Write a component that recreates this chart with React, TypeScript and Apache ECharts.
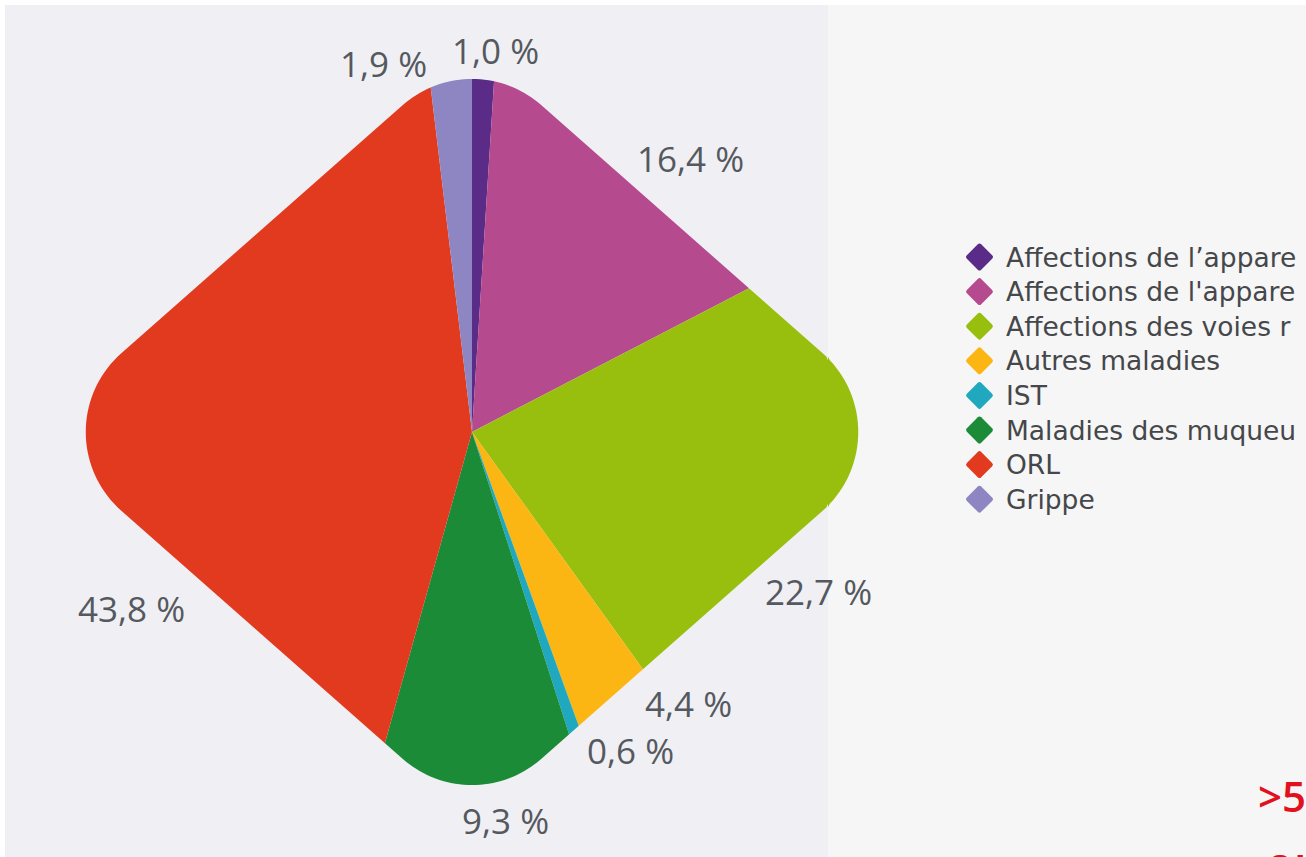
import React, { useEffect, useRef } from "react";
import * as echarts from "echarts";

// ---- data (category names as legible in the source, which cuts them at its edge) ----
const categories = [
  "Affections de l’appare",
  "Affections de l'appare",
  "Affections des voies r",
  "Autres maladies",
  "IST",
  "Maladies des muqueu",
  "ORL",
  "Grippe",
];
const shares = [1.0, 16.4, 22.7, 4.4, 0.6, 9.3, 43.8, 1.9];
const sliceColors = ["#5a2c88", "#b64a8f", "#98bf0e", "#fcb614", "#20a9be", "#1b8b37", "#e23a1f", "#8e86c3"];

// ---- layout (label anchors: left edge, vertical middle) ----
const labelAnchors: [number, number][] = [
  [452, 50], [637, 158], [765, 591], [645, 703], [587, 750], [462, 820], [78, 608], [340, 63],
];

const W = 1306, H = 857;
const CX = 472, CY = 432;
const HALF_W = 440, HALF_H = 388, CORNER = 105;
const PANEL_RIGHT = 828;
const BG = "#f6f6f6";
const PANEL = "#f0f0f4";

function diamondOutline(): number[][] {
  const d = (HALF_W * HALF_H) / Math.hypot(HALF_W, HALF_H);
  const k = (d - CORNER) / d;
  const a2 = HALF_W * k, b2 = HALF_H * k;
  const phi = Math.atan2(HALF_W, HALF_H);
  const corners = [
    [CX + a2, CY, -phi, phi],
    [CX, CY + b2, phi, Math.PI - phi],
    [CX - a2, CY, Math.PI - phi, Math.PI + phi],
    [CX, CY - b2, Math.PI + phi, 2 * Math.PI - phi],
  ];
  const pts: number[][] = [];
  const N = 36;
  for (const [vx, vy, s, e] of corners) {
    for (let i = 0; i <= N; i++) {
      const t = s + ((e - s) * i) / N;
      pts.push([vx + CORNER * Math.cos(t), vy + CORNER * Math.sin(t)]);
    }
  }
  return pts;
}

function maskPath(x0: number, y0: number, x1: number, y1: number, clamp: (p: number[]) => number[]) {
  const hole = diamondOutline().map(clamp).reverse();
  let d = `M${x0} ${y0}L${x1} ${y0}L${x1} ${y1}L${x0} ${y1}Z`;
  d += "M" + hole.map((p) => `${p[0].toFixed(2)} ${p[1].toFixed(2)}`).join("L") + "Z";
  return d;
}

echarts.graphic.registerShape(
  "maskLeft",
  echarts.graphic.extendPath(maskPath(5, 5, PANEL_RIGHT, H, (p) => [Math.min(p[0], PANEL_RIGHT), p[1]]), {})
);
echarts.graphic.registerShape(
  "maskRight",
  echarts.graphic.extendPath(maskPath(PANEL_RIGHT, 0, W, H, (p) => [Math.max(p[0], PANEL_RIGHT), p[1]]), {})
);

const fmt = (v: number) => `${v.toFixed(1).replace(".", ",")} %`;

const diamondIcon = "path://M44 6Q50 0 56 6L94 44Q100 50 94 56L56 94Q50 100 44 94L6 56Q0 50 6 44Z";

export default function App() {
  const ref = useRef<HTMLDivElement>(null);
  useEffect(() => {
    const chart = echarts.init(ref.current!, null, { renderer: "svg" });
    const option: any = {
      animation: false,
      backgroundColor: BG,
      legend: {
        orient: "vertical",
        left: 961,
        top: 237,
        z: 8,
        itemWidth: 31,
        itemHeight: 27,
        itemGap: 4.6,
        icon: diamondIcon,
        selectedMode: false,
        data: categories.map((name, i) => ({ name, itemStyle: { color: sliceColors[i] } })),
        textStyle: {
          fontFamily: "DejaVu Sans",
          fontSize: 26.5,
          lineHeight: 30,
          color: "#45474a",
          padding: [0, 0, 0, 6],
        },
      },
      series: [
        {
          type: "pie",
          center: [CX, CY],
          radius: 400,
          startAngle: 90,
          clockwise: true,
          z: 1,
          silent: true,
          label: { show: false },
          labelLine: { show: false },
          itemStyle: { borderWidth: 0 },
          data: categories.map((name, i) => ({
            name,
            value: shares[i],
            itemStyle: { color: sliceColors[i] },
          })),
        },
      ],
      graphic: {
        elements: [
          { type: "rect", z: 0, silent: true, shape: { x: 5, y: 5, width: PANEL_RIGHT - 5, height: H - 5 }, style: { fill: PANEL } },
          { type: "maskLeft", x: 0, y: 0, z: 3, silent: true, style: { fill: PANEL } },
          { type: "maskRight", x: 0, y: 0, z: 3, silent: true, style: { fill: BG } },
          { type: "rect", z: 6, silent: true, shape: { x: 0, y: 0, width: W, height: 5 }, style: { fill: "#ffffff" } },
          { type: "rect", z: 6, silent: true, shape: { x: 0, y: 0, width: 5, height: H }, style: { fill: "#ffffff" } },
          ...shares.map((v, i) => ({
            type: "text",
            z: 10,
            x: labelAnchors[i][0],
            y: labelAnchors[i][1],
            silent: true,
            style: {
              text: fmt(v),
              fontFamily: "Open Sans",
              fontSize: 35,
              fill: "#55595f",
              align: "left",
              verticalAlign: "middle",
            },
          })),
          {
            type: "text", z: 10, x: 1258, y: 795, silent: true,
            style: { text: ">5", fontFamily: "Open Sans", fontSize: 42, fontWeight: 600, fill: "#e3101d", align: "left", verticalAlign: "middle" },
          },
          {
            type: "text", z: 10, x: 1266, y: 862, silent: true,
            style: { text: "ou", fontFamily: "Open Sans", fontSize: 46, fontWeight: 600, fill: "#e3101d", align: "left", verticalAlign: "middle" },
          },
        ],
      },
    };
    chart.setOption(option);
    return () => chart.dispose();
  }, []);
  return <div ref={ref} style={{ position: "fixed", left: 0, top: 0, width: W, height: H }} />;
}
